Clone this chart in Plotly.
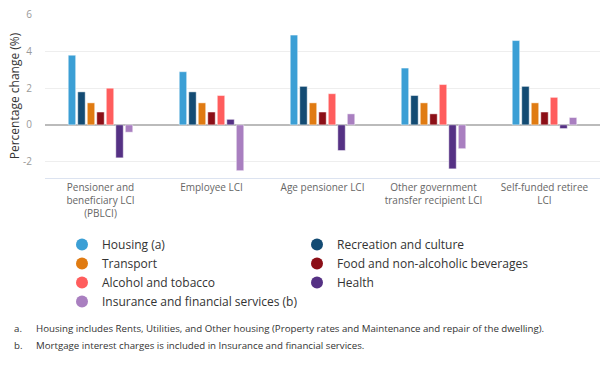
import plotly.graph_objects as go

categories = [
    "Pensioner and<br>beneficiary LCI<br>(PBLCI)",
    "Employee LCI",
    "Age pensioner LCI",
    "Other government<br>transfer recipient LCI",
    "Self-funded retiree<br>LCI",
]

series_names = [
    "Housing (a)",
    "Recreation and culture",
    "Transport",
    "Food and non-alcoholic beverages",
    "Alcohol and tobacco",
    "Health",
    "Insurance and financial services (b)",
]

housing = [3.8, 2.9, 4.9, 3.1, 4.6]
recreation = [1.8, 1.8, 2.1, 1.6, 2.1]
transport = [1.2, 1.2, 1.2, 1.2, 1.2]
food = [0.7, 0.7, 0.7, 0.6, 0.7]
alcohol = [2.0, 1.6, 1.7, 2.2, 1.5]
health = [-1.8, 0.3, -1.4, -2.4, -0.2]
insurance = [-0.4, -2.5, 0.6, -1.3, 0.4]

values = [housing, recreation, transport, food, alcohol, health, insurance]
colors = ["#3b9fd5", "#134b73", "#e07b12", "#8c0f17", "#ff5d5d", "#553184", "#a97fc0"]

y_ticks = [-2, 0, 2, 4, 6]
y_tick_labels = ["-2", "0", "2", "4", "6"]

footnotes = [
    ("a.", "Housing includes Rents, Utilities, and Other housing (Property rates and Maintenance and repair of the dwelling)."),
    ("b.", "Mortgage interest charges is included in Insurance and financial services."),
]

FONT = "Open Sans"
W, H = 602, 365
ML, MR, MT, MB = 45, 2, 14, 187
PW, PH = W - ML - MR, H - MT - MB

fig = go.Figure()
for name, vals, col in zip(series_names, values, colors):
    fig.add_trace(go.Bar(
        x=categories, y=vals, name=name, showlegend=False,
        marker=dict(color=col, line=dict(color="rgba(255,255,255,0.45)", width=1)),
    ))
for name, col in zip(series_names, colors):
    fig.add_trace(go.Scatter(
        x=[None], y=[None], mode="markers", name=name,
        marker=dict(color=col, size=12, symbol="circle"),
    ))

fig.update_layout(
    width=W, height=H,
    margin=dict(l=ML, r=MR, t=MT, b=MB, autoexpand=False),
    paper_bgcolor="white", plot_bgcolor="white",
    font=dict(family=FONT, color="#333"),
    barmode="group", bargap=0.40, bargroupgap=0.22,
    showlegend=True,
    legend=dict(
        orientation="h", x=(62 - ML) / PW, xanchor="left", y=(MT + PH - 230) / PH, yanchor="top",
        entrywidth=190, entrywidthmode="pixels",
        font=dict(family=FONT, size=12, color="#333"),
        itemsizing="constant", tracegroupgap=0,
    ),
)
fig.update_xaxes(
    showgrid=False, showline=True, linecolor="#dce3f0", linewidth=1,
    tickfont=dict(family=FONT, size=10, color="#666"),
    ticks="", fixedrange=True, automargin=False,
)
fig.update_yaxes(
    range=[-2.9, 6.05], tickvals=y_ticks, ticktext=y_tick_labels,
    showgrid=True, gridcolor="#eeeeee", gridwidth=1,
    zeroline=True, zerolinecolor="#bbbbbb", zerolinewidth=2,
    tickfont=dict(family=FONT, size=10, color="#999"),
    ticklabelstandoff=12, automargin=False, fixedrange=True,
    title=dict(text="Percentage change (%)", font=dict(family=FONT, size=12, color="#333"), standoff=0),
)

for i, (lab, txt) in enumerate(footnotes):
    ypix = 328 + i * 17
    yp = (MT + PH - ypix) / PH
    fig.add_annotation(xref="paper", yref="paper", x=(12 - ML) / PW, y=yp,
                       xanchor="left", yanchor="middle", text=lab, showarrow=False,
                       font=dict(family=FONT, size=9.7, color="#333"))
    fig.add_annotation(xref="paper", yref="paper", x=(34 - ML) / PW, y=yp,
                       xanchor="left", yanchor="middle", text=txt, showarrow=False,
                       font=dict(family=FONT, size=9.7, color="#333"))

fig.write_html("out.html", config={"displayModeBar": False},
               post_script="document.body.style.margin='0';")
